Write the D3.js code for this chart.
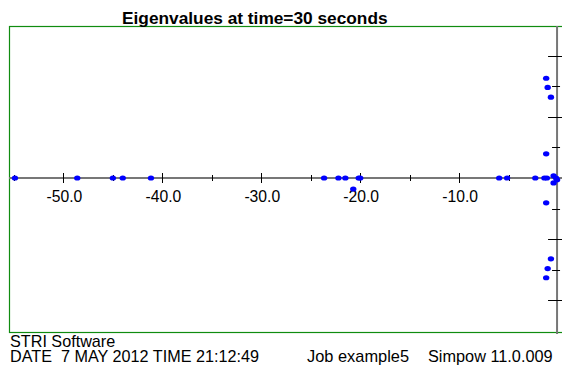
<!DOCTYPE html>
<html><head><meta charset="utf-8">
<script src="https://cdn.jsdelivr.net/npm/d3@7"></script>
<style>body{margin:0;background:#fff}svg{display:block}text{font-family:"Liberation Sans",Arial,sans-serif;white-space:pre}</style>
</head><body>
<svg id="c" width="562" height="367"></svg>
<script>
const titleText = "Eigenvalues at time=30 seconds";
const footerLines = ["STRI Software", "DATE  7 MAY 2012 TIME 21:12:49"];
const footerJob = "Job example5";
const footerVer = "Simpow 11.0.009";
const xTickValues = [-55, -50, -45, -40, -35, -30, -25, -20, -15, -10, -5];
const xTickLabels = ["", "-50.0", "", "-40.0", "", "-30.0", "", "-20.0", "", "-10.0", ""];
const yTickValues = [-20, -15, -10, -5, 5, 10, 15, 20];
const realParts = [-54.9, -48.6, -45.0, -44.0, -41.15, -23.65, -22.2, -21.5, -20.15, -20.0,
  -20.7, -5.95, -5.15, -2.3, -1.38, -1.13, -0.2, -0.1,
  -1.2, -1.2, -1.05, -1.05, -0.72, -0.72, -1.2, -1.2, -0.45, -0.45];
const imagParts = [0, 0, 0, 0, 0, 0, 0, 0, 0, 0,
  -1.8, 0, 0, 0, 0, 0, 0, -0.3,
  16.3, -16.3, 14.8, -14.8, 13.2, -13.2, 3.95, -4.05, 0.35, -0.8];

const svg = d3.select("#c");
const x = d3.scaleLinear().domain([-55.5, 0.5]).range([9, 563]);
const y = d3.scaleLinear().domain([-25, 25]).range([331, 25]);

// frame
svg.append("rect").attr("x", 9.5).attr("y", 26.5).attr("width", 560).attr("height", 306)
  .attr("fill", "none").attr("stroke", "#108c10").attr("stroke-width", 1.2);

// axes lines
svg.append("line").attr("x1", 9).attr("x2", 562).attr("y1", y(0)).attr("y2", y(0))
  .attr("stroke", "#777").attr("stroke-width", 2);
svg.append("line").attr("x1", x(0) - 1).attr("x2", x(0) - 1).attr("y1", 26).attr("y2", 334)
  .attr("stroke", "#777").attr("stroke-width", 2);

// x ticks
const xg = svg.append("g");
xTickValues.forEach((v, i) => {
  const major = xTickLabels[i] !== "";
  const h = major ? 5 : 3;
  xg.append("line").attr("x1", Math.round(x(v)) + 0.5).attr("x2", Math.round(x(v)) + 0.5)
    .attr("y1", y(0) - h).attr("y2", y(0) + h).attr("stroke", "#000").attr("stroke-width", 1);
  if (major) xg.append("text").attr("x", x(v) + 1).attr("y", 201.5).attr("text-anchor", "middle")
    .attr("font-size", "15.7px").attr("fill", "#000").text(xTickLabels[i]);
});
// y ticks
const yg = svg.append("g");
yTickValues.forEach(v => {
  const major = v % 10 === 0;
  const x0 = x(0) - 1;
  yg.append("line").attr("x1", x0 - (major ? 9 : 5)).attr("x2", x0 + (major ? 6 : 3))
    .attr("y1", Math.round(y(v)) + 0.5).attr("y2", Math.round(y(v)) + 0.5)
    .attr("stroke", "#000").attr("stroke-width", 1);
});

// points
svg.append("g").selectAll("ellipse").data(d3.range(realParts.length)).join("ellipse")
  .attr("cx", i => x(realParts[i])).attr("cy", i => y(imagParts[i]))
  .attr("rx", 3.2).attr("ry", 2.6).attr("fill", "#0000ff");

// title
svg.append("text").attr("x", 122).attr("y", 23.5).attr("font-size", "17.3px").attr("font-weight", "bold")
  .attr("fill", "#000").text(titleText);

// footer
svg.append("text").attr("x", 10).attr("y", 347).attr("font-size", "16.2px").text(footerLines[0]);
svg.append("text").attr("x", 10).attr("y", 362).attr("font-size", "16.2px").text(footerLines[1]);
svg.append("text").attr("x", 307).attr("y", 362).attr("font-size", "16.4px").text(footerJob);
svg.append("text").attr("x", 428).attr("y", 362).attr("font-size", "16.3px").text(footerVer);
</script>
</body></html>
